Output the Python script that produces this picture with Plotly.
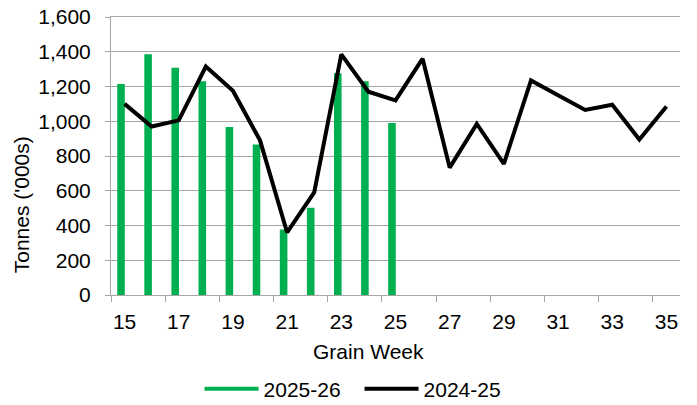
import plotly.graph_objs as go

# weekly values
weeks = list(range(15, 36))
weeks_2526 = list(range(15, 26))
tonnes_2526 = [1215, 1385, 1308, 1230, 967, 866, 377, 502, 1276, 1230, 990]
tonnes_2425 = [1100, 970, 1005, 1315, 1175, 890, 360, 590, 1385, 1170, 1120,
               1360, 733, 985, 755, 1235, 1150, 1065, 1095, 895, 1085]
tick_labels = [str(w) for w in range(15, 36, 2)]

green = '#00B050'
grid = '#A6A6A6'
font = 'Liberation Sans, Arial, sans-serif'

fig = go.Figure()

fig.add_trace(go.Bar(
    x=weeks_2526,
    y=tonnes_2526,
    name='2025-26',
    marker=dict(color=green, line=dict(width=0)),
    width=0.28,
    offset=-0.27,
    showlegend=False,
))

# legend entry drawn as a line, like the original
fig.add_trace(go.Scatter(
    x=[None], y=[None],
    name='2025-26',
    mode='lines',
    line=dict(color=green, width=4),
))

fig.add_trace(go.Scatter(
    x=weeks,
    y=tonnes_2425,
    name='2024-25',
    mode='lines',
    line=dict(color='black', width=4),
))

# page body has an 8px margin, so the figure is sized a little smaller
fig.update_layout(
    width=689,
    height=397,
    margin=dict(l=103, r=17, t=9, b=110, autoexpand=False),
    plot_bgcolor='white',
    paper_bgcolor='white',
    font=dict(family=font, size=21, color='black'),
    showlegend=True,
    legend=dict(
        orientation='h',
        xref='container', x=0.278, xanchor='left',
        yref='container', y=0.040, yanchor='middle',
        font=dict(size=21),
        itemwidth=54,
        entrywidth=91,
        traceorder='normal',
    ),
    annotations=[
        dict(text='Grain Week', xref='paper', yref='paper', x=0.452, y=-0.204,
             xanchor='center', yanchor='middle', showarrow=False),
        dict(text="Tonnes ('000s)", xref='paper', yref='paper', x=-0.158, y=0.323,
             xanchor='center', yanchor='middle', textangle=-90, showarrow=False),
    ],
)

fig.update_xaxes(
    range=[14.5, 35.5],
    tickmode='array',
    tickvals=list(range(15, 36, 2)),
    ticktext=tick_labels,
    ticks='',
    ticklabelstandoff=8,
    showgrid=False,
    showline=True,
    mirror=True,  # top edge line stands in for the 1,600 gridline
    linecolor=grid,
    linewidth=1,
    minor=dict(ticks='outside', tick0=14.5, dtick=2, ticklen=6, tickcolor=grid, showgrid=False),
    zeroline=False,
)

fig.update_yaxes(
    range=[0, 1600],
    dtick=200,
    tickformat=',',
    showgrid=True,
    gridcolor=grid,
    gridwidth=1,
    showline=True,
    linecolor=grid,
    ticks='outside',
    ticklen=5,
    tickcolor=grid,
    ticklabelstandoff=10,
    ticklabeloverflow='allow',
    zeroline=False,
)

fig.write_html('out.html')
